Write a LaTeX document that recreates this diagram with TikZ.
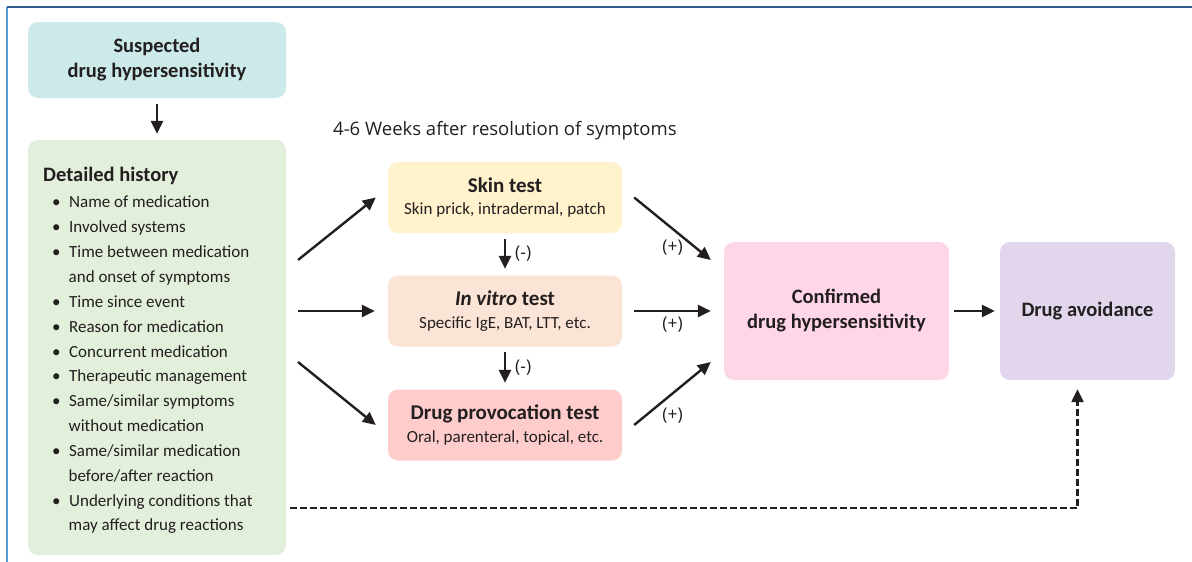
\documentclass[tikz,border=0pt]{standalone}
\usepackage{fontspec}
\setmainfont{Carlito}
\newfontfamily\notefont{Open Sans}
\usetikzlibrary{arrows.meta, positioning}

\definecolor{ink}{HTML}{231F20}
\definecolor{suspc}{HTML}{CDEAEA}
\definecolor{histc}{HTML}{E2EFDA}
\definecolor{skinc}{HTML}{FFF2CC}
\definecolor{vitroc}{HTML}{FBE4D5}
\definecolor{dptc}{HTML}{FFCCCC}
\definecolor{confc}{HTML}{FFD5E8}
\definecolor{avoidc}{HTML}{E2D6EC}
\definecolor{framet}{HTML}{2F5C8A}
\definecolor{framel}{HTML}{5B9BD5}

\begin{document}
\begin{tikzpicture}[x=1pt, y=-1pt, ->, >={Triangle[length=13pt,width=12pt]}, line width=2.4pt, ink,
    box/.style={rounded corners=10pt, align=center, inner sep=0pt, text=ink},
    test/.style={box, minimum width=234, minimum height=71, font=\fontsize{17}{22.5}\selectfont},
    big/.style={box, minimum height=138, font=\bfseries\fontsize{20.5}{25}\selectfont},
    sign/.style={inner sep=0pt, font=\notefont\fontsize{17.5}{20}\selectfont, text=ink}]
    \useasboundingbox (0,0) rectangle (1192,562);
    \draw[-, line width=1.6pt, framel] (7,7) -- (7,562);
    \draw[-, line width=1.6pt, framet] (7,7) -- (1192,7);

    \node[box, fill=suspc, minimum width=258, minimum height=76, font=\bfseries\fontsize{20.5}{25}\selectfont] (susp) at (157,60) {Suspected\\drug hypersensitivity};
    \node[box, fill=histc, minimum width=258, minimum height=415] (hist) at (157,347.5) {};
    \node[anchor=north west, inner sep=0pt, align=left, text=ink, font=\fontsize{17}{24.85}\selectfont] (list) at (42,165.5) {%
        {\bfseries\fontsize{20.5}{24.85}\selectfont Detailed history}\\[2pt]
        \hspace*{9pt}\textbullet\hspace{8.5pt}Name of medication\\
        \hspace*{9pt}\textbullet\hspace{8.5pt}Involved systems\\
        \hspace*{9pt}\textbullet\hspace{8.5pt}Time between medication\\
        \hspace*{25.5pt}and onset of symptoms\\
        \hspace*{9pt}\textbullet\hspace{8.5pt}Time since event\\
        \hspace*{9pt}\textbullet\hspace{8.5pt}Reason for medication\\
        \hspace*{9pt}\textbullet\hspace{8.5pt}Concurrent medication\\
        \hspace*{9pt}\textbullet\hspace{8.5pt}Therapeutic management\\
        \hspace*{9pt}\textbullet\hspace{8.5pt}Same/similar symptoms\\
        \hspace*{25.5pt}without medication\\
        \hspace*{9pt}\textbullet\hspace{8.5pt}Same/similar medication\\
        \hspace*{25.5pt}before/after reaction\\
        \hspace*{9pt}\textbullet\hspace{8.5pt}Underlying conditions that\\
        \hspace*{25.5pt}may affect drug reactions};

    \node[anchor=west, inner sep=0pt, text=ink, font=\notefont\fontsize{18.5}{22}\selectfont] (weeks) at (332,131) {4-6 Weeks after resolution of symptoms};

    \node[test, fill=skinc] (skin) at (505,197.5) {{\bfseries\fontsize{21}{22.5}\selectfont Skin test}\\Skin prick, intradermal, patch};
    \node[test, fill=vitroc] (vitro) at (505,311) {{\bfseries\fontsize{21}{22.5}\selectfont\itshape In vitro\upshape{} test}\\Specific IgE, BAT, LTT, etc.};
    \node[test, fill=dptc] (dpt) at (505,425) {{\bfseries\fontsize{21}{22.5}\selectfont Drug provocation test}\\Oral, parenteral, topical, etc.};

    \node[big, fill=confc, minimum width=225] (conf) at (836.5,311) {Confirmed\\drug hypersensitivity};
    \node[big, fill=avoidc, minimum width=175] (avoid) at (1087.5,311) {Drug avoidance};

    \coordinate (h1) at (298,260);
    \coordinate (h2) at (298,311);
    \coordinate (h3) at (298,362);
    \coordinate (d0) at (290,508);

    \draw ([yshift=-5pt]susp.south) -- ([yshift=5pt]hist.north);
    \draw (h1) -- ([xshift=-11pt]skin.west);
    \draw (h2) -- ([xshift=-12pt]vitro.west);
    \draw (h3) -- ([xshift=-11pt]dpt.west);
    \draw ([yshift=-5pt]skin.south) -- node[sign, right=9pt]{(-)} ([yshift=5.5pt]vitro.north);
    \draw ([yshift=-4pt]vitro.south) -- node[sign, right=9pt]{(-)} ([yshift=5.5pt]dpt.north);
    \draw ([xshift=11pt]skin.east) -- node[sign, below=10pt]{(+)} ([xshift=-12pt,yshift=51pt]conf.west);
    \draw ([xshift=11pt]vitro.east) -- node[sign, below=5pt]{(+)} ([xshift=-12pt]conf.west);
    \draw ([xshift=11pt]dpt.east) -- node[sign, below=13pt]{(+)} ([xshift=-12pt,yshift=-51pt]conf.west);
    \draw ([xshift=4pt]conf.east) -- ([xshift=-4pt]avoid.west);
    \draw[dash pattern=on 7pt off 3pt] (d0) -| ([xshift=-10pt,yshift=-8pt]avoid.south);
\end{tikzpicture}
\end{document}
